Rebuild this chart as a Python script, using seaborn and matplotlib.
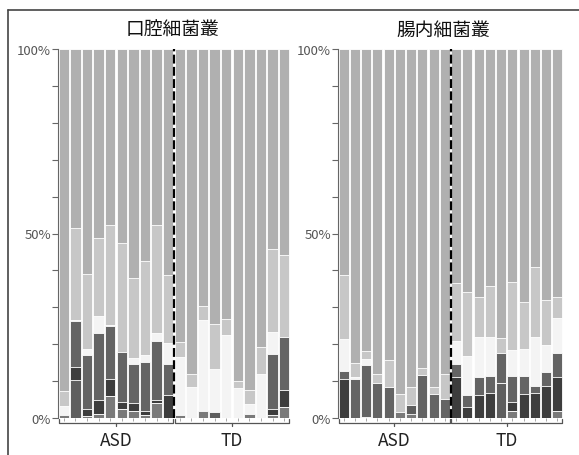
import numpy as np
import pandas as pd
import matplotlib.pyplot as plt
import matplotlib.transforms as mtransforms
from matplotlib.lines import Line2D
import seaborn as sns

sns.set_theme(style="white")
plt.rcParams['font.family'] = ['Noto Sans CJK JP', 'DejaVu Sans']

# samples: 10 ASD + 10 TD per panel
samples = [f"ASD{i}" for i in range(1, 11)] + [f"TD{i}" for i in range(1, 11)]
groups = ["ASD", "TD"]
titles = ["口腔細菌叢", "腸内細菌叢"]

# layers from bottom to top (percent), the rest up to 100% is "top"
layer_names = ["base", "dark2", "darkest", "dark", "white", "light"]
layer_colors = {"base": "#7a7a7a", "dark2": "#5e5e5e", "darkest": "#3d3d3d",
                "dark": "#646464", "white": "#f4f4f4", "light": "#c7c7c7",
                "top": "#b0b0b0"}

# oral
oral_base    = [0.8, 0, 0.5, 1.2, 6.0, 2.5, 1.9, 0.7, 4.2, 0,   0.7, 0, 2.0, 0, 0, 0, 1.0, 0, 0.7, 3.0]
oral_dark2   = [0, 10.4, 0, 0, 0, 0, 0, 0, 0, 0,                0, 0, 0, 1.6, 0, 0, 0, 0, 0, 0]
oral_darkest = [0, 3.4, 2.0, 3.6, 4.7, 1.8, 2.1, 1.1, 0.6, 6.1, 0, 0, 0, 0, 0, 0, 0, 0, 1.8, 4.5]
oral_dark    = [0, 12.4, 14.7, 18.1, 14.1, 13.6, 10.7, 13.4, 16.2, 8.4, 0, 0, 0, 0, 0, 0, 0, 0, 14.9, 14.5]
oral_white   = [2.5, 0.3, 1.6, 4.7, 0.3, 0, 1.6, 1.8, 1.9, 5.8, 15.8, 8.4, 24.5, 11.6, 22.6, 8.1, 2.9, 12.0, 5.9, 0]
oral_light   = [4.0, 25.0, 20.3, 21.2, 27.1, 29.6, 21.6, 25.5, 29.5, 18.4, 4.1, 3.6, 3.9, 12.4, 4.3, 1.9, 3.6, 7.2, 22.4, 22.1]

# gut
gut_base    = [0, 0, 0.3, 0, 0, 1.6, 1.2, 0, 0, 0,        0, 0, 0, 0, 0, 1.8, 0, 0, 0, 2.0]
gut_dark2   = [0, 0, 0, 0, 0, 0, 2.2, 0, 0, 0,            0, 0, 0, 0, 9.5, 0, 0, 0, 0, 0]
gut_darkest = [10.5, 0, 0, 0, 0, 0, 0, 0, 0, 0,           11.0, 2.9, 6.2, 6.7, 0, 2.6, 6.5, 6.7, 8.6, 9.0]
gut_dark    = [2.2, 10.6, 14.0, 9.5, 8.4, 0, 0, 11.6, 6.6, 5.1, 3.6, 3.3, 4.8, 4.8, 8.0, 6.9, 4.8, 2.1, 4.0, 6.5]
gut_white   = [8.6, 0.5, 1.8, 0, 0, 0, 0, 0, 0, 0,        6.4, 10.7, 10.9, 10.4, 0, 7.2, 7.4, 13.1, 7.2, 9.5]
gut_light   = [17.4, 3.8, 2.0, 2.5, 7.2, 5.0, 5.0, 2.0, 1.8, 6.7, 15.6, 17.3, 10.8, 13.8, 4.1, 18.4, 12.8, 18.9, 12.3, 5.7]

oral = pd.DataFrame({"sample": samples, "base": oral_base, "dark2": oral_dark2,
                     "darkest": oral_darkest, "dark": oral_dark,
                     "white": oral_white, "light": oral_light})
gut = pd.DataFrame({"sample": samples, "base": gut_base, "dark2": gut_dark2,
                    "darkest": gut_darkest, "dark": gut_dark,
                    "white": gut_white, "light": gut_light})

fig = plt.figure(figsize=(5.79, 4.56), dpi=100)
ax1 = fig.add_axes([58 / 579, 37 / 456, 232 / 579, 369 / 456])
ax2 = fig.add_axes([338 / 579, 37 / 456, 225 / 579, 369 / 456])

for ax, df, title, tx in [(ax1, oral, titles[0], 172.5), (ax2, gut, titles[1], 443)]:
    df = df.copy()
    df["top"] = 100 - df[layer_names].sum(axis=1)
    names = layer_names + ["top"]
    cum = df[names].cumsum(axis=1)
    cum["sample"] = df["sample"]
    # draw cumulative heights from the top layer down so lower ones sit in front
    for name in reversed(names):
        sns.barplot(data=cum, x="sample", y=name, color=layer_colors[name],
                    saturation=1, width=0.9, edgecolor="white", linewidth=0.6,
                    errorbar=None, ax=ax)
    ax.set_xlim(-0.5, 19.5)
    ax.set_ylim(0, 100)
    ax.set_xlabel("")
    ax.set_ylabel("")

    ax.axvline(9.5, color="black", ls=(0, (4, 1.5)), lw=1.6, zorder=5)

    yt = np.arange(0, 101, 10)
    ax.set_yticks(yt)
    ax.set_yticklabels([f"{v}%" if v % 50 == 0 else "" for v in yt])
    ax.set_xticks(range(20))
    ax.set_xticklabels([])
    ax.tick_params(axis="y", length=4, width=0.8, color="#666", labelsize=9.5,
                   labelcolor="#555", pad=1, left=True)
    ax.tick_params(axis="x", length=2, width=0.6, color="#999", bottom=True)
    for s in ["top", "right", "bottom"]:
        ax.spines[s].set_visible(False)
    ax.spines["left"].set_color("#666")
    ax.spines["left"].set_linewidth(0.8)

    # group brackets under the bars
    trans = mtransforms.blended_transform_factory(ax.transData, ax.transAxes)
    for (x0, x1), g in zip([(-0.45, 9.45), (9.55, 19.45)], groups):
        ax.plot([x0, x0, x1, x1], [-0.004, -0.0136, -0.0136, -0.004],
                color="#555", lw=0.9, transform=trans, clip_on=False)
        xm = (x0 + x1) / 2
        ax.plot([xm, xm], [-0.0136, -0.022], color="#555", lw=0.9,
                transform=trans, clip_on=False)
        ax.text(xm, -0.06, g, transform=trans, ha="center", va="center",
                fontsize=12.5, color="#222")

    fig.text(tx / 579, 1 - 30 / 456, title, ha="center", va="center",
             fontsize=13.5, color="#111")

# outer frame (top and left edges)
fig.add_artist(Line2D([8 / 579, 1], [1 - 10.5 / 456, 1 - 10.5 / 456],
                      color="#444", lw=1.2))
fig.add_artist(Line2D([8 / 579, 8 / 579], [0, 1 - 10.5 / 456],
                      color="#444", lw=1.2))

fig.savefig("out.png", dpi=100)
